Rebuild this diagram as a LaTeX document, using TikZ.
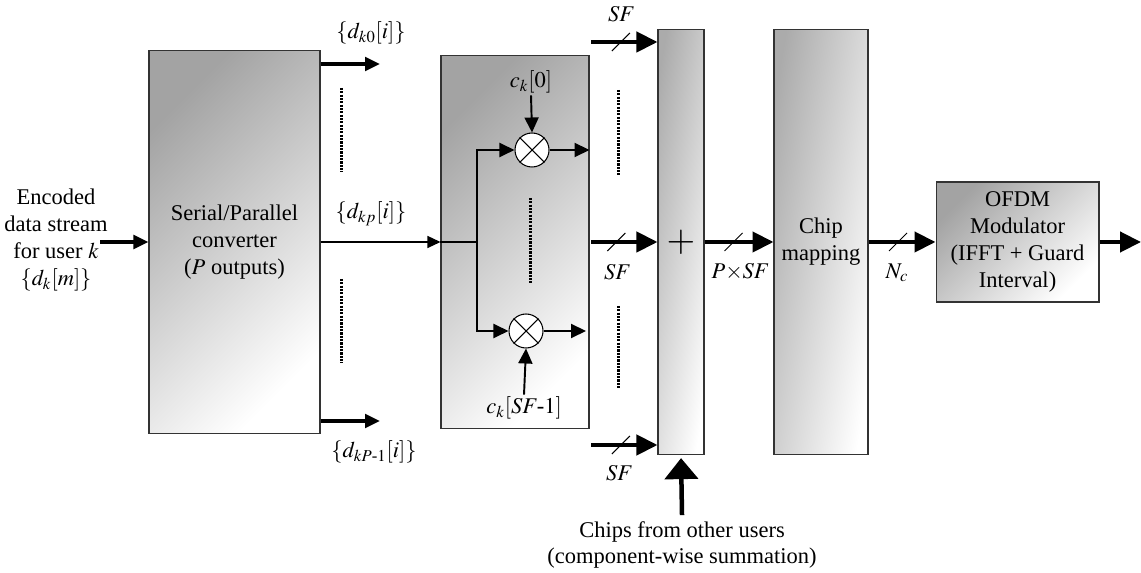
\documentclass[tikz,border=0pt]{standalone}
\usepackage{amsmath}
\usepackage{mathptmx}
\usepackage{fontspec}
\setmainfont{Liberation Serif}
\usetikzlibrary{positioning, arrows.meta}
\definecolor{boxline}{HTML}{333333}

\begin{document}
\begin{tikzpicture}[
  x=0.02cm, y=-0.02cm,
  font=\fontsize{12.8}{15.3}\selectfont,
  blk/.style={draw=boxline, line width=0.6pt, align=center, inner sep=0pt,
              left color=black!36, right color=white, shading angle=45},
  col/.style={draw=boxline, line width=0.6pt, align=center, inner sep=0pt,
              left color=black!33, right color=white, shading angle=80},
  mul/.style={draw, circle, line width=0.6pt, fill=white, minimum size=0.68cm, inner sep=0pt},
  lbl/.style={inner sep=1pt},
  fat/.style={line width=0.085cm, -{Triangle[length=0.42cm, width=0.40cm]}},
  fatS/.style={line width=0.08cm, -{Triangle[length=0.30cm, width=0.27cm]}},
  big/.style={line width=0.09cm, -{Triangle[length=0.42cm, width=0.66cm]}, shorten >=1.5pt},
  thin/.style={line width=0.7pt, -{Triangle[length=0.26cm, width=0.24cm]}},
  med/.style={line width=1.1pt, -{Triangle[length=0.30cm, width=0.28cm]}},
  bus/.style={line width=0.6pt},
  dots/.style={line width=1.7pt, dash pattern=on 1.2pt off 0.7pt},
]
\useasboundingbox (0,0) rectangle (1141,573);

%% ===== INPUT & SERIAL/PARALLEL =====

\node[align=center] (src) at (56,240)
    {Encoded\\data stream\\for user $k$\\$\{d_k[m]\}$};
\coordinate (in) at (100,242);

\node[blk, minimum width=3.42cm, minimum height=7.68cm] (sp) at (234.5,242)
    {Serial/Parallel\\converter\\($P$ outputs)};

\coordinate (o0) at (380,64);
\coordinate (o1) at (380,421);
\node[lbl] (d0) at (371,33) {$\{d_{k0}[i]\}$};
\node[lbl] (dp) at (371,214) {$\{d_{kp}[i]\}$};
\node[lbl] (d1) at (374,452) {$\{d_{kP\text{-}1}[i]\}$};

%% ===== SPREADER =====

\node[blk, minimum width=2.96cm, minimum height=7.48cm] (spr) at (515,242) {};
\coordinate (br) at (477,242);
\node[mul] (m0) at (532,150) {};
\node[mul] (m1) at (526,331) {};
\node[lbl] (c0) at (531,82) {$c_k[0]$};
\node[lbl] (c1) at (524,408) {$c_k[\mathit{SF}\text{-}1]$};
\coordinate (m1o) at (586,331);

%% ===== ADDER, CHIP MAPPING, OFDM =====

\node[col, minimum width=0.92cm, minimum height=8.52cm] (add) at (681,242)
    {\fontsize{21}{24}\selectfont $+$};
\node[col, minimum width=1.88cm, minimum height=8.52cm] (chip) at (821,242)
    {Chip\\mapping};
\node[blk, minimum width=3.26cm, minimum height=2.4cm] (ofdm) at (1017.5,242)
    {OFDM\\Modulator\\(IFFT + Guard\\Interval)};
\coordinate (out) at (1141,242);

\coordinate (a0) at (591,42);
\coordinate (a1) at (591,242);
\coordinate (a2) at (591,445);
\node[lbl] (sf0) at (621,14) {$\mathit{SF}$};
\node[lbl] (sf1) at (617,272) {$\mathit{SF}$};
\node[lbl] (sf2) at (619,473) {$\mathit{SF}$};
\node[lbl] (psf) at (740,272) {$P{\times}\mathit{SF}$};
\node[lbl] (nc) at (897,273) {$N_c$};

\node[align=center] (oth) at (682,545)
    {Chips from other users\\(component-wise summation)};

%% ===== DOTS =====

\draw[dots] (341,88) -- (341,172);
\draw[dots] (341,279) -- (341,363);
\draw[dots] (530,198) -- (530,283);
\draw[dots] (618,90) -- (618,175);
\draw[dots] (618,306) -- (618,389);

%% ===== ARROWS =====

\draw[fatS] (in) -- (sp.west);
\draw[fatS] (sp.east |- o0) -- (o0);
\draw[fatS] (sp.east |- o1) -- (o1);
\draw[thin] (sp.east) -- (spr.west);

\draw[line width=1.1pt] (spr.west) -- (br);
\draw[med] (br) |- (m0.west);
\draw[med] (br) |- (m1.west);
\draw[med] (m0.east) -- (spr.east |- m0);
\draw[med] (m1.east) -- (m1o);
\draw[med] (c0.south) -- (m0.north);
\draw[med] (c1.north) -- (m1.south);
\draw[line width=0.6pt] (m0.north east) -- (m0.south west) (m0.north west) -- (m0.south east);
\draw[line width=0.6pt] (m1.north east) -- (m1.south west) (m1.north west) -- (m1.south east);

\draw[fat] (a0) -- (add.west |- a0) coordinate[pos=0.45] (s0);
\draw[fat] (a1) -- (add.west |- a1) coordinate[pos=0.38] (s1);
\draw[fat] (a2) -- (add.west |- a2) coordinate[pos=0.45] (s2);
\draw[fat] (add.east) -- (chip.west) coordinate[pos=0.42] (s3);
\draw[fat] (chip.east) -- (ofdm.west) coordinate[pos=0.44] (s4);
\draw[fat] (ofdm.east) -- (out);
\draw[big] (oth.north) -- (add.south);

\foreach \s in {s0,s1,s2,s3,s4}
  \draw[bus] ([shift={(-9,9)}]\s) -- ([shift={(9,-9)}]\s);

\end{tikzpicture}
\end{document}
